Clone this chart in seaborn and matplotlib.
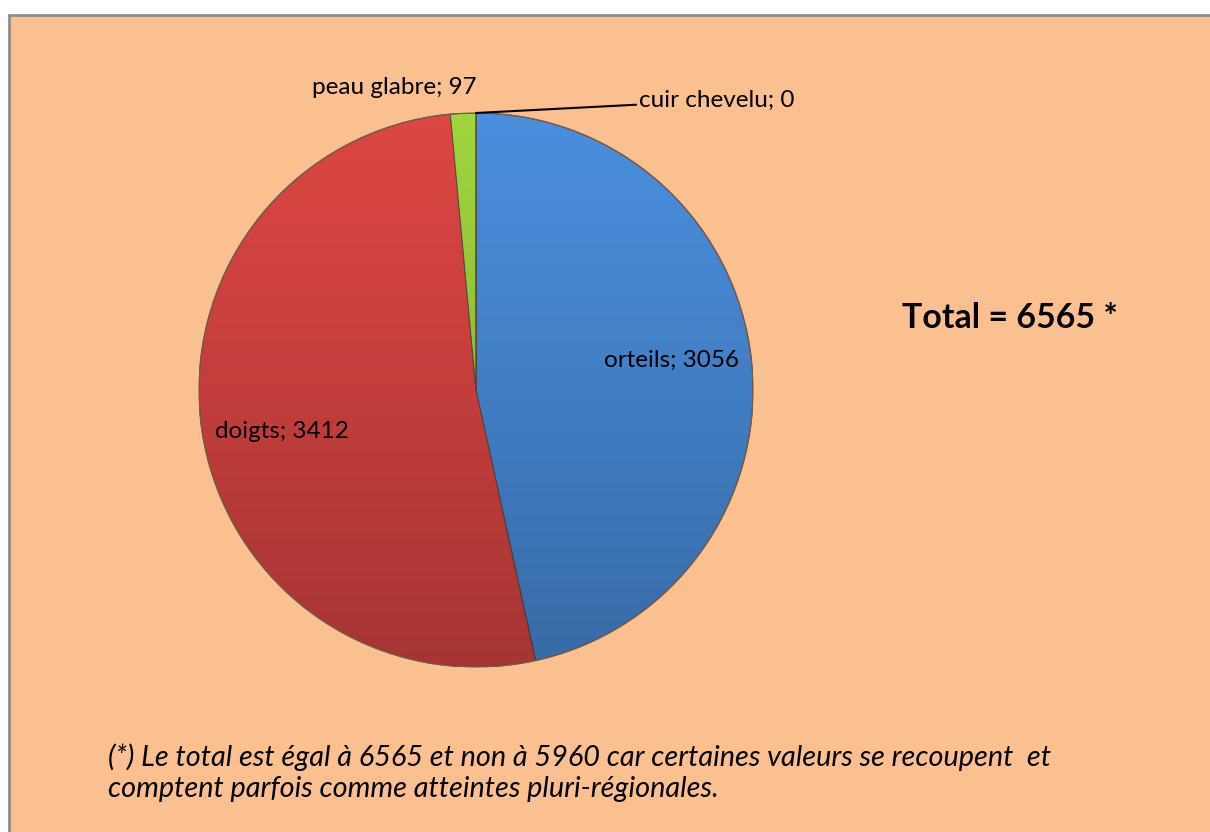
import numpy as np
import matplotlib
matplotlib.use("Agg")
import matplotlib.pyplot as plt
import seaborn as sns
from matplotlib.patches import Rectangle, Circle

categories = ["orteils", "doigts", "peau glabre", "cuir chevelu"]
values = [3056, 3412, 97, 0]
total_text = "Total = 6565 *"
footnote = ("(*) Le total est égal à 6565 et non à 5960 car certaines valeurs se recoupent  et\n"
            "comptent parfois comme atteintes pluri-régionales.")

sns.set_theme(style="white")
plt.rcParams['font.family'] = ['Lato', 'DejaVu Sans']

W, H = 1210, 832
fig = plt.figure(figsize=(W / 100, H / 100), dpi=100)
fig.patch.set_facecolor("white")
fig.patches.append(Rectangle((9 / W, -0.01), 1.02 - 9 / W, 1 - 15 / H + 0.01,
                             transform=fig.transFigure, facecolor="#FAC090",
                             edgecolor="#8C8C8C", linewidth=2, zorder=-5))

cx, cy, r = 476, 390, 277
ax = fig.add_axes([(cx - r) / W, (H - cy - r) / H, 2 * r / W, 2 * r / H])
ax.set_zorder(2)
ax.patch.set_alpha(0)

colors = ["#4A8EDD", "#DC4644", "#A0D43E", "#8064A2"]
wedges, _ = ax.pie(values, colors=colors, startangle=90, counterclock=False, radius=1,
                   wedgeprops=dict(edgecolor="#5a4a40", linewidth=0.7))
ax.set_xlim(-1, 1)
ax.set_ylim(-1, 1)
ax.axis("off")

# vertical shading overlay (darker towards the bottom)
ny = 256
t = np.linspace(0, 1, ny)[:, None]  # 0 top, 1 bottom
rgba = np.zeros((ny, 2, 4))
rgba[..., 3] = (0.25 * t ** 1.1) * np.ones((1, 2))
im = ax.imshow(rgba, extent=(-1, 1, -1, 1), origin="upper", aspect="auto",
               interpolation="bilinear", zorder=3)
clip = Circle((0, 0), 1, transform=ax.transData)
im.set_clip_path(clip)
ax.add_patch(Circle((0, 0), 1, fill=False, edgecolor="#7a5a48", linewidth=1.0, zorder=4))

fs = 17.5
offsets = [(0, 8), (0, -11)]  # pixel nudges for inside labels
for i, w in enumerate(wedges):
    mid = np.deg2rad((w.theta1 + w.theta2) / 2)
    lab = f"{categories[i]}; {values[i]}"
    if i < 2:
        ax.annotate(lab, xy=(0.71 * np.cos(mid), 0.71 * np.sin(mid)),
                    xytext=offsets[i], textcoords="offset pixels",
                    ha="center", va="center", fontsize=fs, color="black", zorder=6)
    elif i == 2:
        ax.text(1.11 * np.cos(mid) - 0.245, 1.095 * np.sin(mid), lab, ha="center",
                va="center", fontsize=fs, color="black", zorder=6)
    else:
        ang = np.deg2rad(w.theta1)
        ax.annotate(lab, xy=(np.cos(ang), np.sin(ang)), xytext=(0.59, 1.045),
                    ha="left", va="center", fontsize=fs, color="black", zorder=6,
                    arrowprops=dict(arrowstyle="-", color="black", lw=1.5,
                                    shrinkA=0, shrinkB=0), annotation_clip=False)

fig.text(1010 / W, 1 - 318 / H, total_text, ha="center", va="center",
         fontsize=24.4, fontweight="bold", color="black")
fig.text(108 / W, 1 - 773 / H, footnote, ha="left", va="center", fontsize=20.8,
         style="italic", color="black", linespacing=1.25)

fig.savefig("out.png", dpi=100)
